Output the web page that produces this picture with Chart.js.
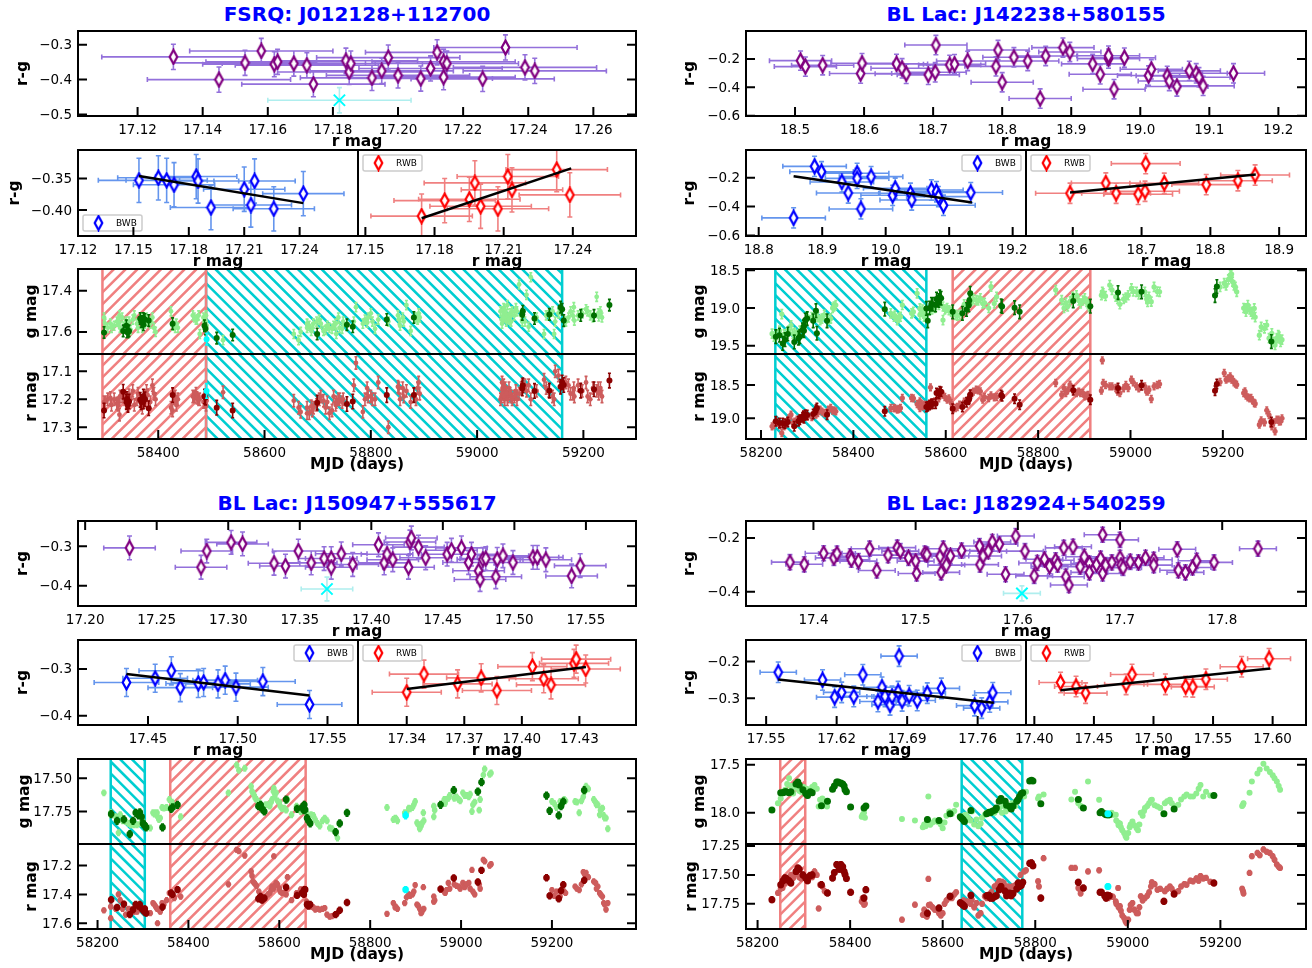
<!DOCTYPE html>
<html>
<head>
<meta charset="utf-8">
<title>Blazar colour and light curves</title>
<script src="https://cdn.jsdelivr.net/npm/chart.js@4"></script>
<style>
    html, body { margin: 0; padding: 0; background: #fff; }
    #page { position: relative; width: 1312px; height: 968px; overflow: hidden; }
    #page canvas { position: absolute; }
    .src-title {
        position: absolute; text-align: center; color: #0000ff;
        font: bold 20px "DejaVu Sans"; line-height: 24px; white-space: nowrap;
    }
</style>
</head>
<body>
<div id="page"></div>
<script>
// ---- J012128+112700 ----
const aTitle = 'FSRQ: J012128+112700';
const aRmag = [17.131,17.145,17.153,17.158,17.162,17.163,17.168,17.172,17.174,17.184,17.185,17.1855,17.192,17.195,17.197,17.200,17.207,17.210,17.212,17.214,17.214,17.215,17.226,17.233,17.239,17.242];
const aColor = [-0.335,-0.400,-0.352,-0.318,-0.356,-0.349,-0.354,-0.359,-0.413,-0.346,-0.378,-0.354,-0.395,-0.375,-0.337,-0.388,-0.397,-0.368,-0.322,-0.393,-0.349,-0.354,-0.398,-0.308,-0.365,-0.375];
const aQuietRmag = [17.182], aQuietColor = [-0.459];
const aBwbRmag = [17.153,17.1635,17.168,17.172,17.184,17.185,17.192,17.210,17.2136,17.2156,17.226,17.242];
const aBwbColor = [-0.353,-0.349,-0.353,-0.360,-0.347,-0.354,-0.396,-0.367,-0.392,-0.354,-0.398,-0.374];
const aBwbFitX = [17.153,17.242], aBwbFitY = [-0.346,-0.389];
const aRwbRmag = [17.1744,17.1844,17.1951,17.1975,17.200,17.2075,17.2118,17.2136,17.233,17.2387];
const aRwbColor = [-0.4095,-0.385,-0.383,-0.357,-0.394,-0.398,-0.347,-0.368,-0.336,-0.376];
const aRwbFitX = [17.1744,17.2393], aRwbFitY = [-0.413,-0.334];
const aMjd = [58298,58305,58310,58317,58322,58327,58332,58337,58345,58352,58360,58368,58375,58380,58389,58395,58424,58430,58434,58437,58468,58473,58478,58490,58491,58522,58655,58664,58668,58680,58684,58688,58692,58703,58711,58715,58722,58727,58730,58735,58739,58746,58772,58768,58789,58785,58793,58800,58808,58814,58833,58851,58855,58860,58867,58875,58888,58892,59046,59048,59050,59052,59054,59058,59062,59066,59073,59079,59085,59093,59097,59101,59112,59126,59135,59145,59147,59153,59167,59176,59182,59183,59205,59213,59225,59229,59232,
    58300,58312,58325,58328,58340,58348,58355,58362,58370,58378,58385,58392,58427,58432,58465,58471,58476,58485,58488,58680,58690,58698,58706,58718,58734,58741,58748,58795,58803,58853,58862,58885,58890,59044,59047,59049,59051,59053,59055,59057,59060,59064,59070,59075,59083,59090,59130,59142,59172,59180,59190,59198,59208,59218,59228,59235];
const aG = [17.53,17.58,17.56,17.57,17.55,17.52,17.53,17.56,17.55,17.54,17.56,17.53,17.56,17.55,17.53,17.60,17.50,17.57,17.56,17.58,17.53,17.54,17.61,17.52,17.57,17.64,17.61,17.64,17.60,17.58,17.57,17.595,17.56,17.54,17.595,17.59,17.58,17.585,17.57,17.61,17.53,17.585,17.48,17.55,17.54,17.56,17.555,17.51,17.585,17.54,17.55,17.52,17.57,17.53,17.47,17.595,17.54,17.53,17.54,17.50,17.485,17.52,17.515,17.53,17.51,17.50,17.485,17.37,17.55,17.42,17.575,17.335,17.53,17.61,17.52,17.61,17.55,17.51,17.55,17.50,17.48,17.545,17.49,17.52,17.43,17.525,17.50,
    17.56,17.58,17.55,17.58,17.55,17.59,17.52,17.58,17.58,17.53,17.56,17.58,17.57,17.58,17.52,17.54,17.52,17.53,17.55,17.56,17.58,17.55,17.56,17.57,17.56,17.58,17.55,17.53,17.55,17.54,17.55,17.53,17.51,17.50,17.56,17.53,17.49,17.50,17.55,17.47,17.54,17.55,17.52,17.50,17.52,17.55,17.52,17.50,17.53,17.52,17.52,17.51,17.50,17.53,17.51,17.53];
const aR = [17.21,17.20,17.195,17.20,17.215,17.255,17.19,17.20,17.185,17.17,17.20,17.21,17.19,17.185,17.15,17.20,17.23,17.195,17.22,17.20,17.19,17.195,17.20,17.22,17.205,17.175,17.205,17.23,17.245,17.25,17.25,17.225,17.23,17.20,17.205,17.23,17.25,17.24,17.19,17.21,17.20,17.21,17.07,17.15,17.20,17.245,17.16,17.19,17.20,17.14,17.30,17.155,17.20,17.16,17.17,17.21,17.16,17.18,17.19,17.16,17.15,17.20,17.175,17.19,17.18,17.20,17.17,17.18,17.15,17.17,17.15,17.20,17.17,17.13,17.17,17.20,17.10,17.115,17.14,17.18,17.16,17.19,17.14,17.20,17.17,17.18,17.16,
    17.21,17.22,17.22,17.19,17.21,17.20,17.22,17.18,17.23,17.17,17.21,17.18,17.24,17.19,17.19,17.18,17.20,17.21,17.21,17.23,17.24,17.22,17.19,17.21,17.22,17.20,17.20,17.19,17.20,17.16,17.19,17.20,17.14,17.20,17.14,17.18,17.19,17.16,17.18,17.20,17.16,17.19,17.19,17.20,17.16,17.15,17.16,17.19,17.15,17.18,17.15,17.17,17.19,17.16,17.16,17.19];
const aBinMjd = [58298,58334,58341,58345,58366,58372,58372,58382,58427,58489,58510,58540,58699,58755,58766,58830,58881,59085,59108,59136,59157,59163,59195,59220,59249,58340,58343,58368,58375,58487,59086,59160];
const aBinG = [17.603,17.595,17.60,17.595,17.535,17.565,17.535,17.545,17.56,17.585,17.63,17.615,17.61,17.565,17.575,17.54,17.53,17.515,17.535,17.515,17.48,17.545,17.52,17.52,17.47,17.57,17.60,17.55,17.54,17.57,17.50,17.49];
const aBinR = [17.24,17.173,17.199,17.208,17.202,17.208,17.19,17.232,17.185,17.194,17.23,17.24,17.212,17.217,17.208,17.185,17.185,17.161,17.17,17.169,17.155,17.149,17.169,17.164,17.133,17.21,17.22,17.21,17.20,17.19,17.15,17.14];
const aQuietMjd = [58491], aQuietG = [17.635], aQuietR = [17.17];
const aBwbSpans = [[58490,59160]], aRwbSpans = [[58295,58490]];
const aTopXTicks = [17.12,17.14,17.16,17.18,17.20,17.22,17.24,17.26], aTopYTicks = [-0.3,-0.4,-0.5];
const aBwbXTicks = [17.12,17.15,17.18,17.21,17.24], aRwbXTicks = [17.15,17.18,17.21,17.24], aMidYTicks = [-0.35,-0.40];
const aGTicks = [17.4,17.6], aRTicks = [17.1,17.2,17.3], aMjdTicks = [58400,58600,58800,59000,59200];

// ---- J142238+580155 ----
const bTitle = 'BL Lac: J142238+580155';
const bRmag = [18.508,18.515,18.540,18.595,18.597,18.647,18.655,18.661,18.693,18.703,18.704,18.724,18.731,18.750,18.791,18.794,18.800,18.817,18.837,18.855,18.863,18.888,18.898,18.931,18.942,18.954,18.954,18.962,18.977,19.012,19.016,19.039,19.042,19.053,19.071,19.081,19.085,19.091,19.135];
const bColor = [-0.212,-0.254,-0.244,-0.303,-0.230,-0.235,-0.266,-0.305,-0.312,-0.294,-0.102,-0.242,-0.237,-0.214,-0.252,-0.137,-0.364,-0.188,-0.214,-0.479,-0.179,-0.120,-0.151,-0.235,-0.308,-0.198,-0.177,-0.413,-0.191,-0.317,-0.273,-0.319,-0.355,-0.394,-0.284,-0.301,-0.329,-0.390,-0.301];
const bBwbRmag = [18.855,18.888,18.899,18.931,18.941,18.955,18.955,18.961,18.977,19.011,19.015,19.039,19.041,19.072,19.080,19.083,19.091,19.134];
const bBwbColor = [-0.478,-0.122,-0.159,-0.230,-0.306,-0.170,-0.205,-0.416,-0.193,-0.322,-0.274,-0.308,-0.354,-0.285,-0.297,-0.331,-0.391,-0.303];
const bBwbFitX = [18.855,19.136], bBwbFitY = [-0.190,-0.372];
const bRwbRmag = [18.596,18.648,18.663,18.695,18.705,18.706,18.733,18.794,18.840,18.865];
const bRwbColor = [-0.308,-0.237,-0.308,-0.315,-0.294,-0.103,-0.239,-0.248,-0.221,-0.182];
const bRwbFitX = [18.596,18.866], bRwbFitY = [-0.303,-0.179];
const bMjd = [58224,58233,58245,58256,58265,58269,58278,58292,58301,58319,58328,58337,58351,58355,58362,58481,58488,58495,58502,58506,58526,58538,58544,58544,58553,58567,58576,58594,58594,58603,58612,58621,58630,58653,58666,58675,58680,58693,58698,58705,58838,58851,58856,58869,58883,58892,58901,58910,58937,58939,58941,58955,58968,58977,58995,59002,59013,59031,59040,59045,59051,59063,59194,59203,59216,59221,59230,59248,59254,59261,59268,59279,59295,59306,59313,59320,59325,
    58228,58240,58250,58260,58273,58284,58296,58310,58323,58332,58346,58358,58490,58498,58530,58547,58550,58556,58570,58585,58598,58607,58625,58640,58657,58660,58670,58684,58710,58860,58864,58875,58888,58897,58905,58908,58946,58960,58972,58985,58990,59006,59018,59035,59037,59058,59207,59212,59219,59224,59227,59245,59250,59258,59264,59270,59283,59290,59300,59310,59317,59322,59328];
const bG = [19.34,19.36,19.08,19.34,19.23,19.34,19.36,19.23,19.115,19.09,19.16,19.09,19.14,19.00,18.96,19.07,19.115,19.16,19.115,18.96,19.07,18.805,19.005,19.09,19.115,19.005,19.00,18.98,19.16,19.00,19.05,19.09,19.09,18.915,18.895,18.87,18.94,19.00,18.715,18.94,18.76,18.895,19.00,18.91,18.83,18.94,18.87,18.98,18.83,18.785,18.805,18.695,18.85,18.95,18.83,18.74,18.785,18.785,18.85,18.915,18.72,18.785,18.72,18.67,18.56,18.65,18.785,19.005,18.96,19.05,19.005,19.36,19.225,19.335,19.49,19.36,19.45,
    19.38,19.30,19.35,19.30,19.33,19.30,19.20,19.12,19.12,19.14,19.15,18.98,19.10,19.13,19.05,19.05,19.02,19.06,19.02,18.96,19.02,19.03,19.10,18.95,18.90,18.88,18.90,18.93,18.85,18.93,18.98,18.85,18.90,18.90,18.92,18.95,18.84,18.76,18.88,18.88,18.86,18.78,18.82,18.88,18.92,18.78,18.70,18.62,18.55,18.70,18.72,19.00,19.05,19.02,19.08,19.12,19.25,19.27,19.40,19.45,19.40,19.38,19.42];
const bR = [19.12,19.05,19.22,19.07,18.945,19.07,19.02,18.995,18.97,18.945,18.87,18.92,18.845,18.885,18.895,18.845,18.845,18.87,18.845,18.695,18.695,18.785,18.745,18.845,18.795,18.535,18.745,18.645,18.645,18.72,18.77,18.845,18.795,18.645,18.57,18.595,18.72,18.695,18.655,18.685,18.47,18.645,18.545,18.495,18.62,18.62,18.67,18.695,18.585,18.13,18.47,18.52,18.545,18.62,18.545,18.42,18.52,18.52,18.57,18.71,18.52,18.485,18.455,18.32,18.37,18.42,18.495,18.595,18.685,18.695,18.77,19.095,18.88,19.12,19.195,19.02,19.045,
    19.10,19.10,19.12,19.00,19.05,19.00,18.97,18.98,18.92,18.90,18.87,18.88,18.85,18.86,18.70,18.78,18.82,18.80,18.76,18.70,18.68,18.70,18.83,18.75,18.62,18.60,18.58,18.68,18.68,18.62,18.58,18.57,18.60,18.62,18.66,18.65,18.50,18.52,18.60,18.55,18.50,18.46,18.55,18.60,18.60,18.50,18.42,18.40,18.42,18.46,18.48,18.62,18.66,18.70,18.73,18.78,19.03,19.06,18.95,19.06,19.02,19.05,19.00];
const bBinMjd = [58232,58240,58247,58258,58272,58281,58290,58296,58313,58319,58321,58343,58468,58561,58558,58569,58587,58615,58636,58650,58653,58722,58749,58760,58876,58913,58973,59024,59183,59187,59305,58252,58284,58292,58300,58293,58580,58585,58590,58565,58572,58578,58645,58651,58720];
const bBinG = [19.38,19.36,19.47,19.345,19.45,19.40,19.29,19.16,19.17,19.035,19.335,19.17,19.015,19.17,19.005,18.95,18.85,19.05,19.07,18.96,18.805,18.98,18.995,19.05,18.905,18.975,18.795,18.785,18.835,18.715,19.445,19.42,19.38,19.25,19.14,19.30,18.88,18.90,18.87,19.00,18.95,18.96,19.02,18.90,18.97];
const bBinR = [19.045,19.07,19.07,19.055,19.12,19.045,18.985,18.945,18.935,18.87,18.845,18.945,18.895,18.82,18.83,18.785,18.595,18.855,18.83,18.72,18.645,18.67,18.705,18.795,18.58,18.72,18.545,18.505,18.585,18.485,19.055,19.08,19.02,18.96,18.95,19.00,18.62,18.63,18.60,18.80,18.78,18.78,18.76,18.70,18.65];
const bBwbSpans = [[58231,58558]], bRwbSpans = [[58615,58913]];
const bTopXTicks = [18.5,18.6,18.7,18.8,18.9,19.0,19.1,19.2], bTopYTicks = [-0.2,-0.4,-0.6];
const bBwbXTicks = [18.8,18.9,19.0,19.1,19.2], bRwbXTicks = [18.6,18.7,18.8,18.9], bMidYTicks = [-0.2,-0.4,-0.6];
const bGTicks = [18.5,19.0,19.5], bRTicks = [18.5,19.0], bMjdTicks = [58200,58400,58600,58800,59000,59200];

// ---- J150947+555617 ----
const cTitle = 'BL Lac: J150947+555617';
const cRmag = [17.231,17.281,17.285,17.302,17.310,17.332,17.340,17.349,17.358,17.367,17.372,17.372,17.379,17.387,17.405,17.409,17.411,17.415,17.426,17.427,17.428,17.433,17.438,17.453,17.456,17.463,17.468,17.470,17.475,17.476,17.478,17.480,17.487,17.488,17.492,17.499,17.513,17.516,17.522,17.540,17.546];
const cColor = [-0.304,-0.353,-0.312,-0.290,-0.294,-0.343,-0.350,-0.312,-0.342,-0.331,-0.331,-0.353,-0.319,-0.346,-0.296,-0.342,-0.320,-0.334,-0.353,-0.289,-0.279,-0.302,-0.329,-0.320,-0.310,-0.304,-0.341,-0.320,-0.362,-0.384,-0.333,-0.331,-0.377,-0.333,-0.324,-0.341,-0.328,-0.328,-0.334,-0.375,-0.349];
const cQuietRmag = [17.369], cQuietColor = [-0.408];
const cBwbRmag = [17.438,17.454,17.463,17.468,17.478,17.481,17.489,17.493,17.499,17.514,17.540];
const cBwbColor = [-0.329,-0.320,-0.304,-0.340,-0.331,-0.329,-0.332,-0.324,-0.339,-0.327,-0.376];
const cBwbFitX = [17.438,17.540], cBwbFitY = [-0.311,-0.357];
const cRwbRmag = [17.340,17.349,17.3665,17.3788,17.387,17.4055,17.4114,17.4152,17.4272,17.4283,17.4333];
const cRwbColor = [-0.350,-0.311,-0.332,-0.319,-0.346,-0.295,-0.321,-0.334,-0.288,-0.279,-0.300];
const cRwbFitX = [17.340,17.4334], cRwbFitY = [-0.343,-0.296];
const cMjd = [58214,58229,58229,58246,58250,58262,58273,58287,58300,58316,58322,58328,58335,58332,58346,58358,58369,58383,58488,58506,58511,58524,58538,58542,58547,58570,58579,58584,58588,58593,58602,58611,58618,58627,58638,58647,58670,58679,58689,58700,58711,58728,58837,58851,58856,58876,58885,58899,58903,58912,58917,58940,58940,58963,58972,58995,59004,59017,59024,59026,59040,59049,59066,59200,59218,59227,59251,59260,59269,59275,59292,59301,59305,59311,59319,59323,
    58240,58255,58268,58280,58295,58325,58331,58338,58342,58352,58364,58540,58545,58550,58555,58575,58582,58587,58590,58596,58600,58606,58615,58660,58665,58675,58684,58695,58705,58716,58855,58860,58880,58888,58893,58896,58906,58909,58914,58918,58942,58965,58968,58975,58985,58990,58998,59008,59012,59020,59030,59042,59052,59063,59205,59210,59230,59255,59265,59272,59280,59296,59298,59307,59314,59316];
const cG = [17.61,17.775,17.76,17.91,17.775,17.825,17.85,17.85,17.825,17.875,17.76,17.76,17.81,17.79,17.725,17.66,17.71,17.79,17.61,17.40,17.44,17.425,17.56,17.61,17.65,17.70,17.71,17.66,17.575,17.61,17.71,17.725,17.66,17.775,17.71,17.75,17.775,17.81,17.86,17.80,17.875,17.95,17.72,17.81,17.80,17.76,17.725,17.675,17.835,17.86,17.76,17.79,17.71,17.66,17.65,17.66,17.61,17.64,17.75,17.70,17.74,17.475,17.46,17.675,17.675,17.66,17.675,17.76,17.64,17.56,17.66,17.70,17.775,17.725,17.80,17.88,
    17.79,17.82,17.84,17.85,17.84,17.77,17.76,17.80,17.72,17.72,17.68,17.60,17.63,17.66,17.68,17.70,17.68,17.60,17.64,17.67,17.68,17.73,17.74,17.76,17.79,17.78,17.84,17.82,17.82,17.88,17.80,17.82,17.76,17.73,17.72,17.70,17.85,17.88,17.84,17.82,17.74,17.69,17.66,17.63,17.65,17.64,17.67,17.63,17.63,17.62,17.68,17.66,17.43,17.47,17.69,17.72,17.67,17.68,17.67,17.60,17.58,17.68,17.70,17.74,17.78,17.80];
const cR = [17.51,17.565,17.485,17.40,17.44,17.54,17.505,17.52,17.505,17.53,17.46,17.485,17.505,17.60,17.47,17.39,17.425,17.415,17.33,17.09,17.10,17.13,17.24,17.31,17.33,17.415,17.39,17.345,17.135,17.32,17.38,17.39,17.28,17.44,17.39,17.365,17.485,17.505,17.505,17.495,17.555,17.53,17.535,17.46,17.485,17.46,17.40,17.335,17.47,17.53,17.35,17.45,17.415,17.38,17.32,17.345,17.32,17.32,17.23,17.38,17.33,17.16,17.19,17.37,17.415,17.38,17.345,17.37,17.245,17.25,17.31,17.345,17.39,17.415,17.505,17.46,
    17.50,17.50,17.50,17.52,17.50,17.47,17.50,17.52,17.46,17.44,17.41,17.27,17.32,17.34,17.38,17.40,17.37,17.36,17.34,17.33,17.36,17.39,17.40,17.45,17.47,17.49,17.50,17.50,17.54,17.55,17.49,17.50,17.42,17.41,17.40,17.38,17.48,17.50,17.52,17.50,17.44,17.39,17.37,17.36,17.33,17.34,17.36,17.35,17.33,17.36,17.40,17.36,17.17,17.20,17.41,17.38,17.39,17.36,17.33,17.26,17.28,17.32,17.36,17.40,17.46,17.47];
const cBinMjd = [58230,58243,58258,58271,58278,58284,58293,58300,58307,58343,58362,58376,58559,58567,58615,58639,58655,58657,58661,58668,58724,58733,58749,58955,58984,59037,59045,59188,59195,59215,59220,59225,59271,58290,58297,58303,58304,58365,58554,58562,58650,58654,58664];
const cBinG = [17.77,17.82,17.81,17.92,17.82,17.76,17.757,17.84,17.87,17.87,17.73,17.70,17.70,17.75,17.66,17.73,17.70,17.737,17.80,17.84,17.905,17.84,17.76,17.70,17.59,17.60,17.53,17.63,17.745,17.78,17.71,17.675,17.59,17.78,17.79,17.85,17.86,17.72,17.71,17.73,17.72,17.74,17.82];
const cBinR = [17.437,17.49,17.467,17.54,17.507,17.47,17.47,17.507,17.53,17.488,17.39,17.367,17.414,17.426,17.35,17.407,17.367,17.367,17.47,17.47,17.54,17.51,17.456,17.363,17.286,17.314,17.233,17.284,17.41,17.43,17.374,17.333,17.302,17.48,17.50,17.52,17.50,17.40,17.43,17.44,17.39,17.40,17.48];
const cQuietMjd = [58878], cQuietG = [17.78], cQuietR = [17.367];
const cBwbSpans = [[58229,58304]], cRwbSpans = [[58360,58658]];
const cTopXTicks = [17.20,17.25,17.30,17.35,17.40,17.45,17.50,17.55], cTopYTicks = [-0.3,-0.4];
const cBwbXTicks = [17.45,17.50,17.55], cRwbXTicks = [17.34,17.37,17.40,17.43], cMidYTicks = [-0.3,-0.4];
const cGTicks = [17.50,17.75], cRTicks = [17.2,17.4,17.6], cMjdTicks = [58200,58400,58600,58800,59000,59200];

// ---- J182924+540259 ----
const dTitle = 'BL Lac: J182924+540259';
const dRmag = [17.377,17.391,17.410,17.420,17.423,17.436,17.437,17.444,17.455,17.462,17.473,17.482,17.485,17.493,17.501,17.500,17.509,17.511,17.524,17.525,17.527,17.530,17.534,17.545,17.5625,17.563,17.566,17.571,17.575,17.582,17.588,17.598,17.607,17.616,17.619,17.626,17.631,17.637,17.639,17.645,17.647,17.650,17.654,17.661,17.665,17.670,17.670,17.677,17.681,17.683,17.683,17.686,17.692,17.700,17.700,17.701,17.703,17.710,17.718,17.725,17.733,17.733,17.756,17.757,17.764,17.771,17.775,17.792,17.835];
const dColor = [-0.290,-0.298,-0.257,-0.274,-0.258,-0.268,-0.281,-0.286,-0.240,-0.321,-0.264,-0.236,-0.249,-0.274,-0.332,-0.286,-0.258,-0.262,-0.268,-0.328,-0.240,-0.301,-0.267,-0.247,-0.230,-0.299,-0.267,-0.249,-0.215,-0.223,-0.335,-0.193,-0.249,-0.341,-0.293,-0.279,-0.305,-0.283,-0.299,-0.237,-0.344,-0.375,-0.233,-0.307,-0.270,-0.295,-0.328,-0.299,-0.277,-0.188,-0.332,-0.301,-0.291,-0.274,-0.207,-0.301,-0.311,-0.289,-0.291,-0.274,-0.281,-0.301,-0.242,-0.320,-0.328,-0.310,-0.285,-0.291,-0.240];
const dQuietRmag = [17.604], dQuietColor = [-0.406];
const dBwbRmag = [17.562,17.606,17.618,17.625,17.637,17.646,17.661,17.665,17.668,17.673,17.675,17.682,17.681,17.685,17.692,17.700,17.710,17.724,17.757,17.764,17.772,17.775];
const dBwbColor = [-0.229,-0.250,-0.297,-0.284,-0.295,-0.236,-0.309,-0.270,-0.295,-0.318,-0.295,-0.185,-0.282,-0.307,-0.293,-0.306,-0.286,-0.273,-0.320,-0.327,-0.310,-0.285];
const dBwbFitX = [17.562,17.776], dBwbFitY = [-0.249,-0.312];
const dRwbRmag = [17.422,17.435,17.443,17.477,17.482,17.510,17.527,17.533,17.544,17.574,17.597];
const dRwbColor = [-0.257,-0.268,-0.286,-0.262,-0.235,-0.262,-0.268,-0.269,-0.248,-0.214,-0.192];
const dRwbFitX = [17.422,17.598], dRwbFitY = [-0.278,-0.219];
const dMjd = [58244,58254,58268,58277,58299,58313,58323,58335,58332,58350,58425,58430,58512,58540,58557,58569,58573,58587,58600,58614,58629,58650,58663,58673,58682,58691,58722,58736,58763,58776,58808,58818,58806,58878,58886,58893,58914,58938,58965,58974,58979,58983,58992,58997,59001,59010,59019,59028,59037,59052,59064,59091,59109,59127,59141,59157,59169,59249,59263,59268,59280,59293,59307,59313,59322,59329,
    58250,58260,58264,58272,58282,58290,58294,58306,58318,58328,58340,58345,58427,58432,58560,58563,58566,58570,58578,58583,58592,58596,58604,58608,58620,58625,58645,58655,58660,58668,58677,58685,58695,58705,58712,58718,58728,58732,58741,58750,58757,58768,58780,58898,58895,58958,58968,58975,58980,58985,58988,58995,59004,59006,59014,59022,59025,59032,59035,59042,59046,59050,59058,59070,59080,59085,59095,59100,59115,59122,59135,59148,59153,59163,59178,59250,59247,59285,59300,59317,59326];
const dG = [17.90,17.78,17.64,17.80,17.73,17.78,17.71,17.865,17.935,17.935,18.04,18.00,18.065,18.08,18.15,17.83,18.125,18.09,18.16,17.985,17.915,18.02,17.985,18.07,18.11,18.02,17.95,17.985,17.865,17.83,17.83,17.81,17.85,17.86,17.78,17.90,17.675,17.865,18.00,18.02,18.10,18.11,18.21,18.26,18.21,18.09,18.16,18.00,17.95,17.865,17.935,17.865,17.915,17.81,17.83,17.71,17.78,17.915,17.79,17.675,17.59,17.49,17.575,17.61,17.675,17.76,
    17.85,17.76,17.70,17.72,17.74,17.77,17.78,17.75,17.73,17.75,17.85,17.90,18.02,18.05,18.12,18.14,18.10,18.10,18.10,18.08,18.10,18.12,18.10,18.03,18.01,17.98,18.03,18.05,18.08,18.12,18.14,18.05,18.00,17.98,18.00,17.97,18.00,17.93,17.95,17.90,17.93,17.82,17.78,17.93,17.86,18.03,18.02,18.08,18.13,18.15,18.18,18.24,18.15,18.12,18.13,18.18,18.12,18.03,17.98,17.93,17.90,17.87,17.92,17.95,17.90,17.88,17.90,17.93,17.86,17.83,17.83,17.80,17.75,17.83,17.82,17.90,17.93,17.55,17.54,17.64,17.72];
const dR = [17.656,17.613,17.526,17.526,17.51,17.50,17.47,17.585,17.79,17.656,17.73,17.757,17.887,17.757,17.844,17.535,17.757,17.80,17.83,17.70,17.65,17.73,17.714,17.743,17.83,17.685,17.555,17.60,17.584,17.47,17.60,17.355,17.555,17.44,17.44,17.613,17.47,17.46,17.685,17.73,17.613,17.77,17.873,17.916,17.887,17.743,17.83,17.685,17.70,17.564,17.627,17.60,17.64,17.584,17.555,17.51,17.526,17.64,17.483,17.338,17.31,17.28,17.31,17.338,17.41,17.44,
    17.62,17.57,17.55,17.50,17.49,17.52,17.53,17.52,17.52,17.50,17.60,17.64,17.70,17.75,17.80,17.85,17.86,17.76,17.78,17.80,17.83,17.85,17.75,17.72,17.70,17.67,17.72,17.73,17.75,17.78,17.85,17.75,17.70,17.65,17.60,17.58,17.56,17.57,17.60,17.60,17.59,17.50,17.46,17.66,17.62,17.70,17.69,17.75,17.78,17.81,17.85,17.90,17.80,17.76,17.80,17.83,17.78,17.72,17.70,17.68,17.65,17.60,17.58,17.62,17.64,17.62,17.62,17.65,17.60,17.58,17.55,17.53,17.55,17.53,17.56,17.66,17.62,17.33,17.30,17.37,17.43];
const dBinMjd = [58231,58250,58259,58272,58287,58304,58314,58338,58351,58362,58371,58380,58389,58401,58430,58434,58567,58592,58616,58641,58661,58700,58713,58722,58745,58763,58773,58792,58812,58893,58904,58943,58956,59078,59100,59186,
    58255,58262,58268,58283,58290,58298,58308,58318,58366,58374,58377,58384,58387,58392,58638,58644,58647,58695,58703,58708,58716,58726,58735,58738,58748,58752,58760,58766,58770,58788,58795,58940,58950,58953,58960];
const dBinG = [17.97,17.79,17.78,17.78,17.68,17.80,17.78,17.925,17.88,17.755,17.68,17.69,17.76,17.94,17.95,17.93,18.07,18.08,18.01,18.055,17.975,17.995,17.97,17.88,17.935,17.86,17.79,17.66,17.905,17.86,17.95,17.985,18.02,18.01,17.96,17.82,
    17.79,17.78,17.79,17.70,17.71,17.76,17.82,17.79,17.72,17.68,17.69,17.70,17.72,17.78,18.04,18.07,18.09,18.01,18.00,17.98,17.95,17.85,17.88,17.92,17.96,17.93,17.88,17.83,17.80,17.67,17.67,18.00,18.01,18.02,18.02];
const dBinR = [17.714,17.584,17.526,17.57,17.44,17.526,17.506,17.584,17.656,17.526,17.41,17.41,17.497,17.65,17.70,17.627,17.83,17.786,17.685,17.75,17.676,17.676,17.685,17.627,17.656,17.57,17.564,17.396,17.70,17.564,17.613,17.65,17.676,17.728,17.665,17.57,
    17.55,17.53,17.55,17.47,17.45,17.50,17.55,17.50,17.48,17.42,17.45,17.43,17.47,17.53,17.74,17.76,17.77,17.68,17.70,17.70,17.68,17.60,17.64,17.68,17.68,17.66,17.62,17.60,17.59,17.40,17.42,17.65,17.68,17.70,17.68];
const dQuietMjd = [58957], dQuietG = [18.01], dQuietR = [17.60];
const dBwbSpans = [[58641,58772]], dRwbSpans = [[58249,58303]];
const dTopXTicks = [17.4,17.5,17.6,17.7,17.8], dTopYTicks = [-0.2,-0.4];
const dBwbXTicks = [17.55,17.62,17.69,17.76], dRwbXTicks = [17.40,17.45,17.50,17.55,17.60], dMidYTicks = [-0.2,-0.3];
const dGTicks = [17.5,18.0], dRTicks = [17.25,17.50,17.75], dMjdTicks = [58200,58400,58600,58800,59000,59200];

Chart.defaults.font.family = '"DejaVu Sans"';
Chart.defaults.color = '#000';

const page = document.getElementById('page');
const FRAME = 2, TICK_LEN = 9;

const zip = (xs, ys) => xs.map((x, i) => ({ x, y: ys[i] }));

// thin diamond marker, matplotlib's 'd' with a white face
function diamond(color) {
    const c = document.createElement('canvas');
    c.width = 11; c.height = 17;
    const g = c.getContext('2d');
    g.beginPath();
    g.moveTo(5.5, 1.6); g.lineTo(9.3, 8.5); g.lineTo(5.5, 15.4); g.lineTo(1.7, 8.5); g.closePath();
    g.fillStyle = '#fff'; g.fill();
    g.strokeStyle = color; g.lineWidth = 2.2; g.stroke();
    return c;
}
const markers = { purple: diamond('#800080'), blue: diamond('#0000ff'), red: diamond('#ff0000') };

function diamondSet(xs, ys, marker, errColor, xerr, yerr) {
    return { data: zip(xs, ys), pointStyle: marker, pointRadius: 6, xerr, yerr, errColor, errWidth: 1.6, errCap: 2.5 };
}
function crossSet(xs, ys, xerr, yerr) {
    return { data: zip(xs, ys), pointStyle: 'crossRot', pointRadius: 8, borderColor: '#00ffff', borderWidth: 2, xerr, yerr, errColor: '#afeeee', errWidth: 1.6, errCap: 2.5 };
}
function dotSet(xs, ys, color, radius, yerr) {
    return { data: zip(xs, ys), pointStyle: 'circle', pointRadius: radius, backgroundColor: color, borderColor: color, borderWidth: 0, xerr: 0, yerr, errColor: color, errWidth: 1.6, errCap: 1.5 };
}
function fitSet(xs, ys) {
    return { data: zip(xs, ys), showLine: true, pointRadius: 0, borderColor: '#000', borderWidth: 2.5 };
}

// spans, error bars, frame, inward ticks and the little legend box
function decor(cfg) {
    return {
        id: 'decor',
        beforeDatasetsDraw(chart) {
            const { ctx, chartArea: a } = chart;
            (cfg.spans || []).forEach(s => {
                s.ranges.forEach(r => {
                    const x0 = chart.scales.x.getPixelForValue(r[0]);
                    const x1 = chart.scales.x.getPixelForValue(r[1]);
                    ctx.save();
                    ctx.beginPath();
                    ctx.rect(x0, a.top, x1 - x0, a.height);
                    ctx.clip();
                    ctx.strokeStyle = s.color;
                    ctx.lineWidth = 2.5;
                    ctx.beginPath();
                    for (let c = x0 - a.height - 12; c < x1 + a.height; c += 11.8) {
                        if (s.dir > 0) { ctx.moveTo(c, a.bottom); ctx.lineTo(c + a.height, a.top); }
                        else { ctx.moveTo(c, a.top); ctx.lineTo(c + a.height, a.bottom); }
                    }
                    ctx.stroke();
                    ctx.restore();
                    ctx.strokeStyle = s.color;
                    ctx.lineWidth = 2.5;
                    ctx.beginPath();
                    ctx.moveTo(x0, a.top); ctx.lineTo(x0, a.bottom);
                    ctx.moveTo(x1, a.top); ctx.lineTo(x1, a.bottom);
                    ctx.stroke();
                });
            });
        },
        beforeDatasetDraw(chart, args) {
            const ds = chart.data.datasets[args.index];
            if (ds.yerr === undefined) return;
            const { ctx, chartArea: a, scales } = chart;
            const cap = ds.errCap;
            ctx.save();
            ctx.beginPath();
            ctx.rect(a.left, a.top, a.width, a.height);
            ctx.clip();
            ctx.strokeStyle = ds.errColor;
            ctx.lineWidth = ds.errWidth;
            ctx.beginPath();
            ds.data.forEach(p => {
                const px = scales.x.getPixelForValue(p.x), py = scales.y.getPixelForValue(p.y);
                const top = scales.y.getPixelForValue(p.y - ds.yerr), bot = scales.y.getPixelForValue(p.y + ds.yerr);
                ctx.moveTo(px, top); ctx.lineTo(px, bot);
                ctx.moveTo(px - cap, top); ctx.lineTo(px + cap, top);
                ctx.moveTo(px - cap, bot); ctx.lineTo(px + cap, bot);
                if (ds.xerr) {
                    const l = scales.x.getPixelForValue(p.x - ds.xerr), r = scales.x.getPixelForValue(p.x + ds.xerr);
                    ctx.moveTo(l, py); ctx.lineTo(r, py);
                    ctx.moveTo(l, py - cap); ctx.lineTo(l, py + cap);
                    ctx.moveTo(r, py - cap); ctx.lineTo(r, py + cap);
                }
            });
            ctx.stroke();
            ctx.restore();
        },
        afterDatasetsDraw(chart) {
            const { ctx, chartArea: a, scales } = chart;
            if (cfg.legend) {
                const w = 59, h = 16, l = cfg.legend;
                const lx = l.corner.includes('right') ? a.right - w - 5 : a.left + 5;
                const ly = l.corner.includes('top') ? a.top + 5 : a.bottom - h - 5;
                ctx.beginPath();
                ctx.roundRect(lx, ly, w, h, 2);
                ctx.fillStyle = 'rgba(255,255,255,0.8)';
                ctx.fill();
                ctx.strokeStyle = '#cccccc';
                ctx.lineWidth = 1.5;
                ctx.stroke();
                ctx.drawImage(l.marker, lx + 10, ly + h / 2 - 8.5);
                ctx.fillStyle = '#000';
                ctx.font = '9px "DejaVu Sans"';
                ctx.textAlign = 'left';
                ctx.textBaseline = 'middle';
                ctx.fillText(l.label, lx + 33, ly + h / 2 + 0.5);
            }
            ctx.strokeStyle = '#000';
            ctx.lineWidth = FRAME;
            ctx.strokeRect(a.left, a.top, a.width, a.height);
            ctx.beginPath();
            scales.y.ticks.forEach(t => {
                const y = scales.y.getPixelForValue(t.value);
                if (cfg.yTickSides.includes('left')) { ctx.moveTo(a.left, y); ctx.lineTo(a.left + TICK_LEN, y); }
                if (cfg.yTickSides.includes('right')) { ctx.moveTo(a.right, y); ctx.lineTo(a.right - TICK_LEN, y); }
            });
            if (cfg.xTickSide) {
                scales.x.ticks.forEach(t => {
                    const x = scales.x.getPixelForValue(t.value);
                    if (cfg.xTickSide === 'bottom') { ctx.moveTo(x, a.bottom); ctx.lineTo(x, a.bottom - TICK_LEN); }
                    else { ctx.moveTo(x, a.top); ctx.lineTo(x, a.top + TICK_LEN); }
                });
            }
            ctx.stroke();
        }
    };
}

const fmt = (digits) => (v) => v.toFixed(digits).replace('-', '\u2212');

function panel(cfg) {
    const TICK_FONT = 13.5, LABEL_FONT = 15.5;
    const lh = LABEL_FONT * 1.2;
    // canvas box is chosen so the axis labels land where the boxes end
    const canvasLeft = Math.round(cfg.yLabelX ? cfg.yLabelX - lh / 2 : cfg.x - 40);
    const canvasBottom = Math.round(cfg.xLabelY ? cfg.xLabelY + lh / 2 : cfg.y + cfg.h + 20);
    const pad = 20;
    const L = cfg.x - canvasLeft, B = canvasBottom - (cfg.y + cfg.h);
    const R = 30;
    const canvas = document.createElement('canvas');
    canvas.width = L + cfg.w + R;
    canvas.height = pad + cfg.h + B;
    canvas.style.left = canvasLeft + 'px';
    canvas.style.top = (cfg.y - pad) + 'px';
    canvas.style.width = canvas.width + 'px';
    canvas.style.height = canvas.height + 'px';
    page.appendChild(canvas);
    new Chart(canvas, {
        type: 'scatter',
        data: { datasets: cfg.datasets },
        plugins: [decor(cfg)],
        options: {
            responsive: false,
            animation: false,
            events: [],
            layout: { padding: { top: pad, right: R, left: 0, bottom: 0 } },
            plugins: { legend: { display: false }, tooltip: { enabled: false } },
            scales: {
                x: {
                    type: 'linear',
                    min: cfg.xRange[0], max: cfg.xRange[1],
                    grid: { display: false, drawTicks: false },
                    border: { display: false },
                    title: { display: !!cfg.xLabel, text: cfg.xLabel, padding: 0, font: { size: LABEL_FONT, weight: 'bold' } },
                    ticks: {
                        display: !!cfg.xLabel,
                        autoSkip: false, maxRotation: 0, minRotation: 0, padding: 6,
                        font: { size: TICK_FONT },
                        callback: cfg.xDigits === undefined ? undefined : fmt(cfg.xDigits)
                    },
                    afterBuildTicks: (s) => { s.ticks = cfg.xTicks.map(value => ({ value })); },
                    afterFit: (s) => { s.height = B; }
                },
                y: {
                    type: 'linear',
                    reverse: !!cfg.reverse,
                    min: cfg.yRange[0], max: cfg.yRange[1],
                    grid: { display: false, drawTicks: false },
                    border: { display: false },
                    title: { display: !!cfg.yLabel, text: cfg.yLabel, padding: 0, font: { size: LABEL_FONT, weight: 'bold' } },
                    ticks: {
                        display: !!cfg.yDigits,
                        autoSkip: false, padding: 6, labelOffset: 1,
                        font: { size: TICK_FONT },
                        callback: cfg.yDigits ? fmt(cfg.yDigits) : undefined
                    },
                    afterBuildTicks: (s) => { s.ticks = cfg.yTicks.map(value => ({ value })); },
                    afterFit: (s) => { s.width = L; }
                }
            }
        }
    });
}

function title(text, cx, y) {
    const d = document.createElement('div');
    d.className = 'src-title';
    d.textContent = text;
    d.style.left = (cx - 200) + 'px';
    d.style.width = '400px';
    d.style.top = y + 'px';
    page.appendChild(d);
}

const PURPLE_ERR = '#9370db', BLUE_ERR = '#6495ed', RED_ERR = '#f08080';
const CYAN_HATCH = '#00ced1', RED_HATCH = '#f08080';
const LIGHT_G = '#90ee90', DARK_G = '#006f00', LIGHT_R = '#cd5c5c', DARK_R = '#8b0000';

function addBlock(b) {
    title(b.title, (b.x0 + b.x1) / 2, b.titleY);
    const y = b.rows;
    panel({
        x: b.x0, y: y[0], w: b.x1 - b.x0, h: y[1] - y[0],
        xRange: b.topX, yRange: b.topY, xTicks: b.topXTicks, yTicks: b.topYTicks, xDigits: b.topXDigits, yDigits: 1,
        xLabel: 'r mag', xLabelY: y[1] + 26, yLabel: 'r-g', yLabelX: b.labelTop,
        xTickSide: b.topTickSide, yTickSides: ['left', 'right'],
        datasets: [b.quiet ? crossSet(b.quiet[0], b.quiet[1], b.topErr[0], b.topErr[1]) : null,
                   diamondSet(b.rmag, b.color, markers.purple, PURPLE_ERR, b.topErr[0], b.topErr[1])].filter(Boolean)
    });
    panel({
        x: b.x0, y: y[2], w: b.split - b.x0, h: y[3] - y[2],
        xRange: b.bwbX, yRange: b.midY, xTicks: b.bwbXTicks, yTicks: b.midYTicks, xDigits: b.bwbXDigits, yDigits: b.midYDigits,
        xLabel: 'r mag', xLabelY: y[3] + 26, yLabel: 'r-g', yLabelX: b.labelMid,
        xTickSide: 'bottom', yTickSides: ['left'],
        legend: { label: 'BWB', marker: markers.blue, corner: b.bwbLegend },
        datasets: [fitSet(b.bwbFit[0], b.bwbFit[1]), diamondSet(b.bwb[0], b.bwb[1], markers.blue, BLUE_ERR, b.midErr[0], b.midErr[1])]
    });
    panel({
        x: b.split, y: y[2], w: b.x1 - b.split, h: y[3] - y[2],
        xRange: b.rwbX, yRange: b.midY, xTicks: b.rwbXTicks, yTicks: b.midYTicks, xDigits: b.rwbXDigits,
        xLabel: 'r mag', xLabelY: y[3] + 26,
        xTickSide: 'bottom', yTickSides: [],
        legend: { label: 'RWB', marker: markers.red, corner: 'top-left' },
        datasets: [fitSet(b.rwbFit[0], b.rwbFit[1]), diamondSet(b.rwb[0], b.rwb[1], markers.red, RED_ERR, b.midErr[0], b.midErr[1])]
    });
    const spans = [{ ranges: b.bwbSpans, color: CYAN_HATCH, dir: -1 }, { ranges: b.rwbSpans, color: RED_HATCH, dir: 1 }];
    const quietDot = (ys, err) => b.quietMjd ? [dotSet(b.quietMjd, ys, '#00ffff', b.binSize, err)] : [];
    panel({
        x: b.x0, y: y[4], w: b.x1 - b.x0, h: y[5] - y[4],
        xRange: b.mjdX, yRange: b.gY, reverse: true, xTicks: b.mjdTicks, yTicks: b.gTicks, yDigits: b.gDigits,
        yLabel: 'g mag', yLabelX: b.labelG, yTickSides: ['left', 'right'], spans,
        datasets: [...quietDot(b.quietG, b.gErr[1]), dotSet(b.binMjd, b.binG, DARK_G, b.binSize, b.gErr[1]), dotSet(b.mjd, b.g, LIGHT_G, b.dotSize, b.gErr[0])]
    });
    panel({
        x: b.x0, y: y[5], w: b.x1 - b.x0, h: y[6] - y[5],
        xRange: b.mjdX, yRange: b.rY, reverse: true, xTicks: b.mjdTicks, yTicks: b.rTicks, xDigits: 0, yDigits: b.rDigits,
        xLabel: 'MJD (days)', xLabelY: y[6] + 26, yLabel: 'r mag', yLabelX: b.labelR,
        xTickSide: 'bottom', yTickSides: ['left', 'right'], spans,
        datasets: [...quietDot(b.quietR, b.rErr[1]), dotSet(b.binMjd, b.binR, DARK_R, b.binSize, b.rErr[1]), dotSet(b.mjd, b.r, LIGHT_R, b.dotSize, b.rErr[0])]
    });
}

addBlock({
    title: aTitle, titleY: 2, x0: 78, x1: 636, split: 358, rows: [31, 116, 150, 236, 269, 354, 439],
    labelTop: 23, labelMid: 15, labelG: 32, labelR: 32,
    topX: [17.1017, 17.2731], topY: [-0.504, -0.261], topXTicks: aTopXTicks, topYTicks: aTopYTicks, topXDigits: 2, topTickSide: 'bottom',
    rmag: aRmag, color: aColor, quiet: [aQuietRmag, aQuietColor], topErr: [0.022, 0.036],
    bwbX: [17.12, 17.2716], rwbX: [17.1468, 17.2674], midY: [-0.441, -0.305], midYTicks: aMidYTicks, midYDigits: 2,
    bwbXTicks: aBwbXTicks, rwbXTicks: aRwbXTicks, bwbXDigits: 2, rwbXDigits: 2, bwbLegend: 'bottom-left',
    bwb: [aBwbRmag, aBwbColor], rwb: [aRwbRmag, aRwbColor], bwbFit: [aBwbFitX, aBwbFitY], rwbFit: [aRwbFitX, aRwbFitY], midErr: [0.022, 0.035],
    mjdX: [58249, 59299], gY: [17.295, 17.707], rY: [17.038, 17.342], mjdTicks: aMjdTicks, gTicks: aGTicks, rTicks: aRTicks, gDigits: 1, rDigits: 1,
    bwbSpans: aBwbSpans, rwbSpans: aRwbSpans, mjd: aMjd, g: aG, r: aR, binMjd: aBinMjd, binG: aBinG, binR: aBinR,
    quietMjd: aQuietMjd, quietG: aQuietG, quietR: aQuietR, gErr: [0.022, 0.028], rErr: [0.022, 0.026], dotSize: 2.4, binSize: 3
});
addBlock({
    title: bTitle, titleY: 2, x0: 746, x1: 1306, split: 1026, rows: [31, 116, 150, 236, 269, 354, 439],
    labelTop: 690, labelMid: 690, labelG: 700, labelR: 700,
    topX: [18.429, 19.24], topY: [-0.602, -0.003], topXTicks: bTopXTicks, topYTicks: bTopYTicks, topXDigits: 1, topTickSide: 'bottom',
    rmag: bRmag, color: bColor, topErr: [0.045, 0.068],
    bwbX: [18.78, 19.221], rwbX: [18.532, 18.939], midY: [-0.603, -0.009], midYTicks: bMidYTicks, midYDigits: 1,
    bwbXTicks: bBwbXTicks, rwbXTicks: bRwbXTicks, bwbXDigits: 1, rwbXDigits: 1, bwbLegend: 'top-right',
    bwb: [bBwbRmag, bBwbColor], rwb: [bRwbRmag, bRwbColor], bwbFit: [bBwbFitX, bBwbFitY], rwbFit: [bRwbFitX, bRwbFitY], midErr: [0.05, 0.07],
    mjdX: [58167.5, 59380], gY: [18.482, 19.61], rY: [18.035, 19.31], mjdTicks: bMjdTicks, gTicks: bGTicks, rTicks: bRTicks, gDigits: 1, rDigits: 1,
    bwbSpans: bBwbSpans, rwbSpans: bRwbSpans, mjd: bMjd, g: bG, r: bR, binMjd: bBinMjd, binG: bBinG, binR: bBinR,
    gErr: [0.06, 0.09], rErr: [0.05, 0.07], dotSize: 2.6, binSize: 3
});
addBlock({
    title: cTitle, titleY: 491, x0: 78, x1: 636, split: 358, rows: [521, 606, 640, 725, 759, 844, 929],
    labelTop: 23, labelMid: 23, labelG: 25, labelR: 32,
    topX: [17.195, 17.585], topY: [-0.451, -0.236], topXTicks: cTopXTicks, topYTicks: cTopYTicks, topXDigits: 2, topTickSide: 'top',
    rmag: cRmag, color: cColor, quiet: [cQuietRmag, cQuietColor], topErr: [0.018, 0.03],
    bwbX: [17.411, 17.567], rwbX: [17.3146, 17.4595], midY: [-0.42, -0.238], midYTicks: cMidYTicks, midYDigits: 1,
    bwbXTicks: cBwbXTicks, rwbXTicks: cRwbXTicks, bwbXDigits: 2, rwbXDigits: 2, bwbLegend: 'top-right',
    bwb: [cBwbRmag, cBwbColor], rwb: [cRwbRmag, cRwbColor], bwbFit: [cBwbFitX, cBwbFitY], rwbFit: [cRwbFitX, cRwbFitY], midErr: [0.018, 0.03],
    mjdX: [58157, 59385], gY: [17.355, 17.995], rY: [17.05, 17.64], mjdTicks: cMjdTicks, gTicks: cGTicks, rTicks: cRTicks, gDigits: 2, rDigits: 1,
    bwbSpans: cBwbSpans, rwbSpans: cRwbSpans, mjd: cMjd, g: cG, r: cR, binMjd: cBinMjd, binG: cBinG, binR: cBinR,
    quietMjd: cQuietMjd, quietG: cQuietG, quietR: cQuietR, gErr: [0.02, 0.025], rErr: [0.016, 0.02], dotSize: 2.8, binSize: 3.3
});
addBlock({
    title: dTitle, titleY: 491, x0: 746, x1: 1306, split: 1026, rows: [521, 606, 640, 725, 759, 844, 929],
    labelTop: 690, labelMid: 690, labelG: 700, labelR: 692,
    topX: [17.334, 17.882], topY: [-0.453, -0.137], topXTicks: dTopXTicks, topYTicks: dTopYTicks, topXDigits: 1, topTickSide: 'top',
    rmag: dRmag, color: dColor, quiet: [dQuietRmag, dQuietColor], topErr: [0.018, 0.028],
    bwbX: [17.53, 17.808], rwbX: [17.393, 17.628], midY: [-0.373, -0.141], midYTicks: dMidYTicks, midYDigits: 1,
    bwbXTicks: dBwbXTicks, rwbXTicks: dRwbXTicks, bwbXDigits: 2, rwbXDigits: 2, bwbLegend: 'top-right',
    bwb: [dBwbRmag, dBwbColor], rwb: [dRwbRmag, dRwbColor], bwbFit: [dBwbFitX, dBwbFitY], rwbFit: [dRwbFitX, dRwbFitY], midErr: [0.018, 0.028],
    mjdX: [58175, 59385], gY: [17.44, 18.324], rY: [17.233, 17.967], mjdTicks: dMjdTicks, gTicks: dGTicks, rTicks: dRTicks, gDigits: 1, rDigits: 2,
    bwbSpans: dBwbSpans, rwbSpans: dRwbSpans, mjd: dMjd, g: dG, r: dR, binMjd: dBinMjd, binG: dBinG, binR: dBinR,
    quietMjd: dQuietMjd, quietG: dQuietG, quietR: dQuietR, gErr: [0.017, 0.02], rErr: [0.02, 0.024], dotSize: 3, binSize: 3.5
});
</script>
</body>
</html>
